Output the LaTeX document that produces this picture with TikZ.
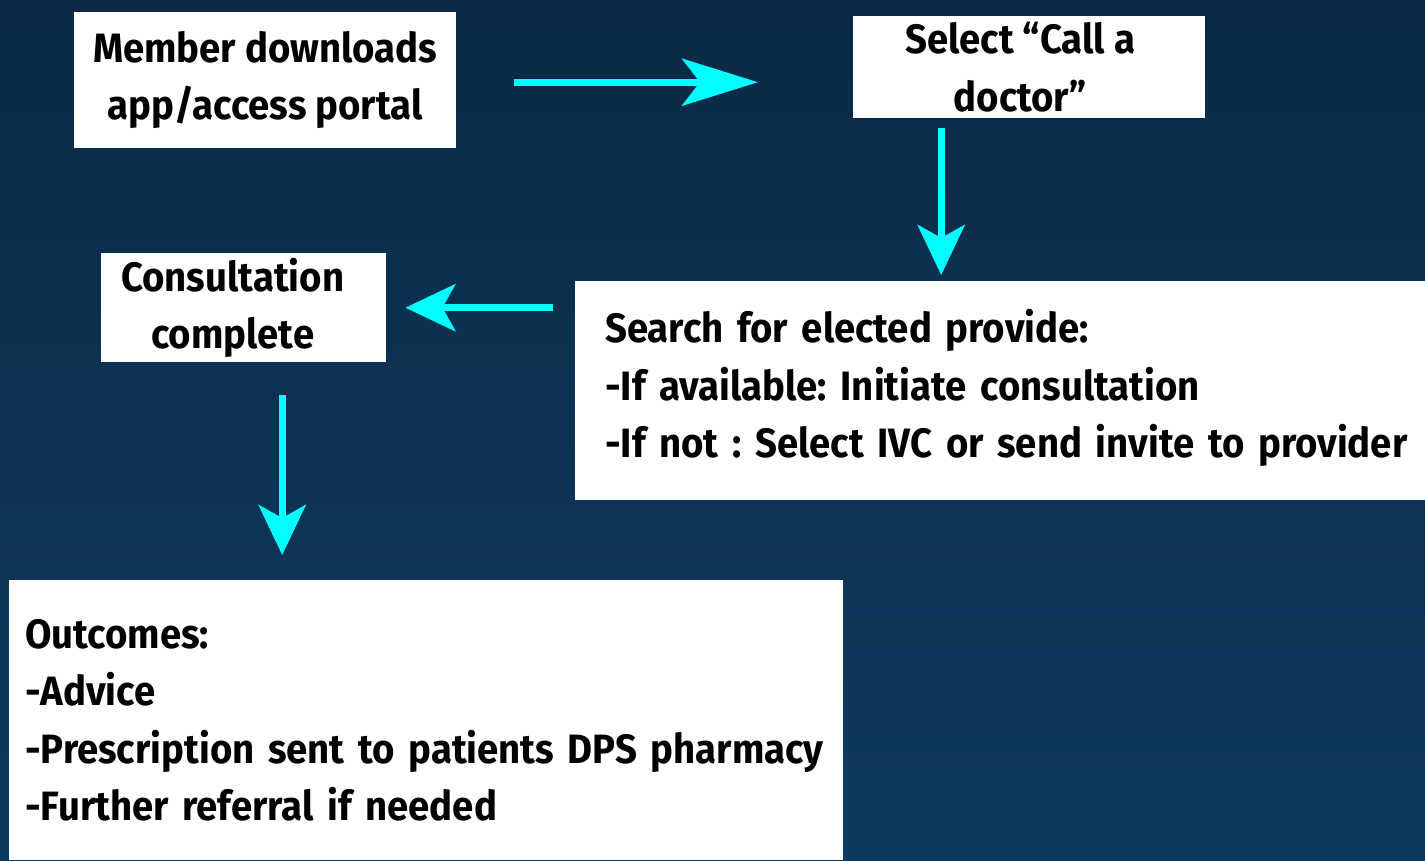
\documentclass[tikz,border=0pt]{standalone}
\usepackage{fontspec}
\setmainfont{Fira Sans}[FakeStretch=0.935]
\usetikzlibrary{arrows.meta}
\frenchspacing
\definecolor{bgtop}{RGB}{10,42,70}
\definecolor{bgbot}{RGB}{14,58,96}
\definecolor{arrcyan}{RGB}{0,255,255}
\tikzset{
  box/.style={draw=none, fill=white, inner sep=0pt, font=\fontsize{41}{57.5}\selectfont\bfseries\frenchspacing, text=black},
  arr/.style={draw=arrcyan, line width=7pt, -{Stealth[length=50pt,width=47pt,inset=13pt]}},
  arrlong/.style={arr, -{Stealth[length=76pt,width=47pt,inset=18pt]}}
}
\begin{document}
\begin{tikzpicture}[x=1pt,y=-1pt]
\useasboundingbox (0,0) rectangle (1425,860);
\shade[top color=bgtop, bottom color=bgbot] (0,0) rectangle (1425,860);
\node[box, anchor=north west, minimum width=382pt, minimum height=136pt, align=center] (m) at (74,12) {Member downloads\\app/access portal};
\node[box, anchor=north west, minimum width=352pt, minimum height=102pt, align=center] (s) at (853,16) {Select “Call a\hspace*{18pt}\\doctor”\hspace*{18pt}};
\node[box, anchor=north west, minimum width=285pt, minimum height=109pt, align=center] (c) at (101,253) {Consultation\hspace*{22pt}\\complete\hspace*{22pt}};
\node[box, anchor=north west, minimum width=850pt, minimum height=219pt, text width=790pt, align=left] (q) at (575,281) {\mbox{Search for elected provide:}\\\mbox{-If available: Initiate consultation}\\\mbox{-If not : Select IVC or send invite to provider}\rule[-14pt]{0pt}{1pt}};
\node[box, anchor=north west, minimum width=834pt, minimum height=280pt, text width=802pt, align=left] (o) at (9,580) {\mbox{Outcomes:}\\\mbox{-Advice}\\\mbox{-Prescription sent to patients DPS pharmacy}\\\mbox{-Further referral if needed}};
\draw[arrlong, shorten <=58pt, shorten >=95pt] ([yshift=-2pt]m.east) -- ([yshift=-2pt]m.east -| s.west);
\draw[arr, shorten <=10pt, shorten >=6pt] ([xshift=-88pt]s.south) -- ([xshift=-88pt]s.south |- q.north);
\draw[arr, shorten <=22pt, shorten >=19pt] (c.east -| q.west) -- (c.east);
\draw[arr, shorten <=33pt, shorten >=25pt] ([xshift=38.5pt]c.south) -- ([xshift=38.5pt]c.south |- o.north);
\end{tikzpicture}
\end{document}
